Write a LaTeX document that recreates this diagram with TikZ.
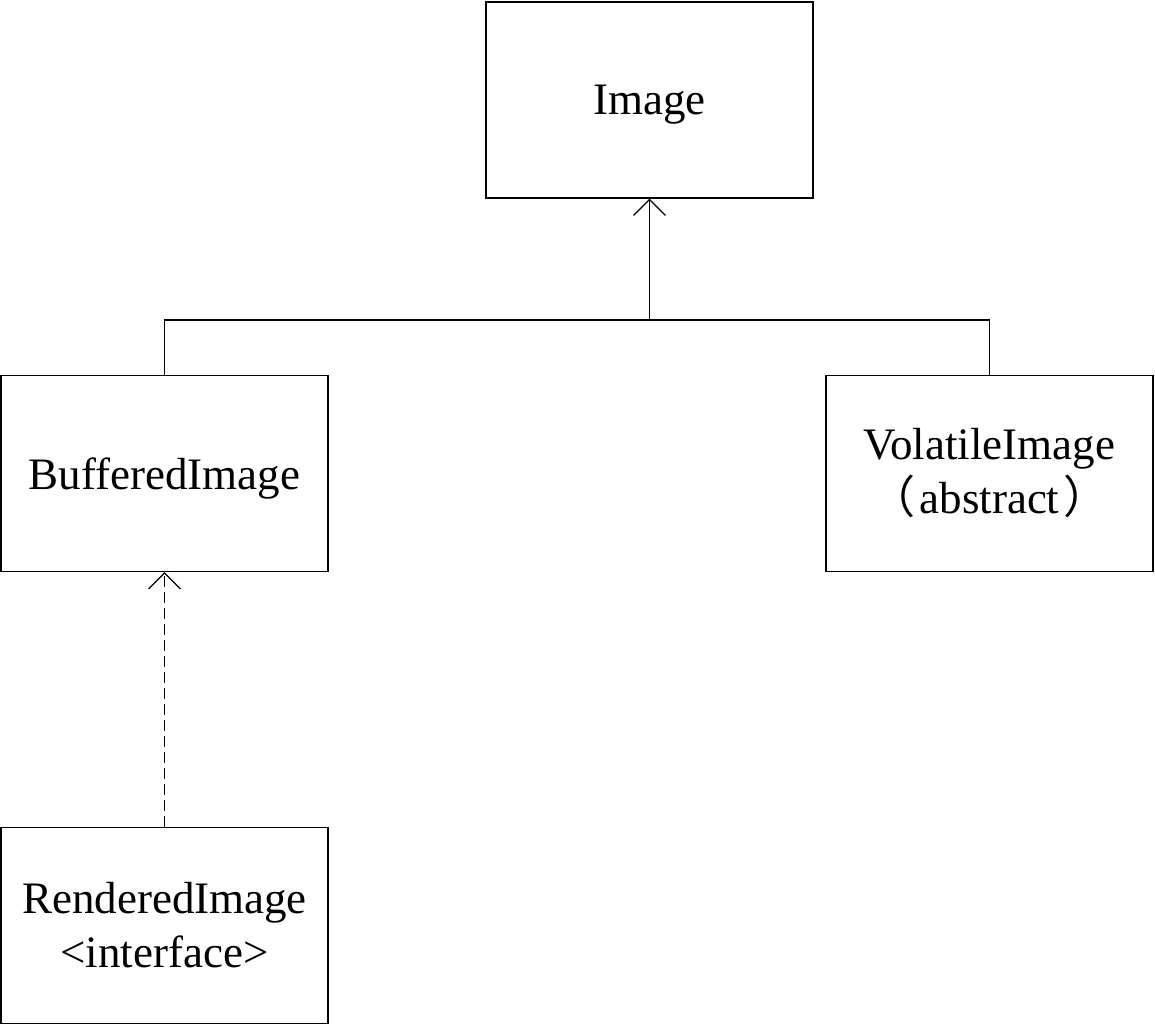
\documentclass[tikz,border=0pt]{standalone}
\usepackage{fontspec}
\setmainfont{Liberation Serif}
\newfontfamily\cjk{Noto Sans CJK SC}
\usetikzlibrary{arrows.meta}
\newcommand{\lowertext}[1]{\raisebox{-5pt}[\height][\depth]{#1}}
\begin{document}
\begin{tikzpicture}[x=1pt,y=-1pt,
  cls/.style={draw,line width=1.2pt,minimum width=327pt,minimum height=196pt,inner sep=0pt,align=center,
    font=\fontsize{45}{54}\selectfont},
  conn/.style={line width=1.2pt},
  tip/.style={-{Straight Barb[length=16pt,width=32pt,line width=1.2pt]}}]
\useasboundingbox (0,0) rectangle (1155,1026);
\fill[white] (0,0) rectangle (1155,1026);
\node[cls] (img) at (649.5,100) {\lowertext{Image}};
\node[cls] (buf) at (164.5,473.5) {\lowertext{BufferedImage}};
\node[cls] (vol) at (989.5,473.5) {VolatileImage\\{\cjk （}\hspace{4pt}abstract\hspace{4pt}{\cjk ）}};
\node[cls] (ren) at (164.5,925.5) {RenderedImage\\<interface>};
\coordinate (j) at (649.5,320);
\draw[conn] (buf.north) |- (j) -| (vol.north);
\draw[conn,tip] (j) -- (img.south);
\draw[conn,tip,dash pattern=on 11pt off 5pt] (ren.north) -- (buf.south);
\end{tikzpicture}
\end{document}
